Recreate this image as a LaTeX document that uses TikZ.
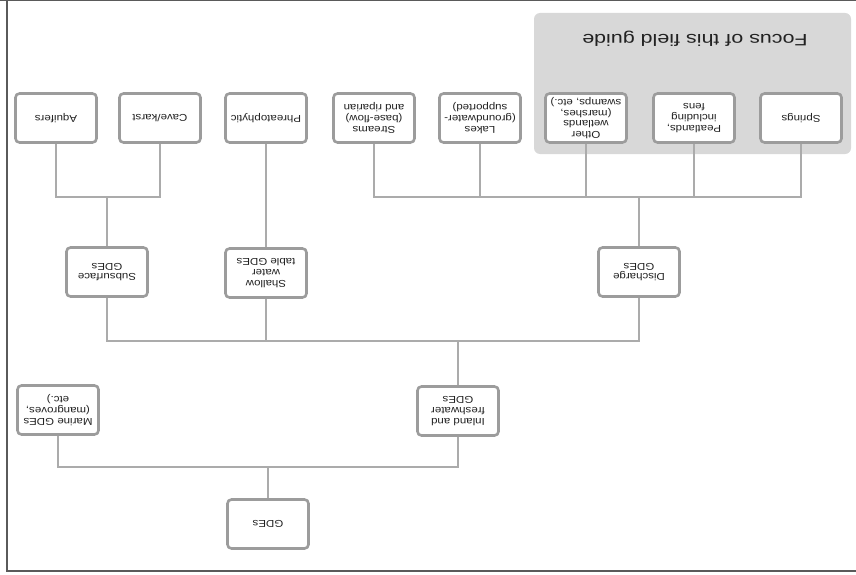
\documentclass[tikz,border=0pt]{standalone}
\usepackage{fontspec}
\newfontfamily\boxfont[FakeStretch=1.15]{Liberation Sans}
\newfontfamily\titlefont[FakeStretch=1.3]{Liberation Sans}
\definecolor{boxgray}{HTML}{9C9C9C}
\definecolor{linegray}{HTML}{ABABAB}
\definecolor{focusgray}{HTML}{D8D8D8}
\definecolor{textgray}{HTML}{222222}
\definecolor{framegray}{HTML}{5A5A5A}
\tikzset{
  gdebox/.style={draw=boxgray, line width=2.6pt, rounded corners=4pt, fill=white,
    minimum width=81pt, minimum height=49pt, inner sep=1pt, align=center,
    text=textgray, rotate=180, font=\boxfont\fontsize{10}{10.6}\selectfont},
  conn/.style={draw=linegray, line width=2pt},
  focus/.style={fill=focusgray, rounded corners=6pt},
}
\begin{document}
\begin{tikzpicture}[x=1pt,y=-1pt]
\useasboundingbox (0,0) rectangle (856,575);
\fill[white] (0,0) rectangle (856,575);
% frame
\draw[framegray, line width=1pt] (0,0.5) -- (856,0.5);
\draw[framegray, line width=2pt] (7,0) -- (7,571);
\draw[framegray, line width=2pt] (6,570.5) -- (856,570.5);
% focus region
\fill[focus] (534,13) rectangle (851,154);
\node[rotate=180, text=textgray, font=\titlefont\fontsize{16.5}{18}\selectfont] (title) at (695,39) {Focus of this field guide};
% nodes
\node[gdebox] (gdes) at (268,524) {GDEs};
\node[gdebox] (marine) at (58,410) {Marine GDEs\\(mangroves,\\etc.)};
\node[gdebox] (inland) at (458,411) {Inland and\\freshwater\\GDEs};
\node[gdebox] (subsurface) at (107,272) {Subsurface\\GDEs};
\node[gdebox] (shallow) at (266,273) {Shallow\\water\\table GDEs};
\node[gdebox] (discharge) at (639,272) {Discharge\\GDEs};
\node[gdebox] (aquifers) at (56,118) {Aquifers};
\node[gdebox] (cave) at (160,118) {Cave/karst};
\node[gdebox] (phreat) at (266,118) {Phreatophytic};
\node[gdebox] (streams) at (374,118) {Streams\\(base-flow)\\and riparian};
\node[gdebox] (lakes) at (480,118) {Lakes\\(groundwater-\\supported)};
\node[gdebox] (other) at (586,118) {Other\\wetlands\\(marshes,\\swamps, etc.)};
\node[gdebox] (peat) at (694,118) {Peatlands,\\including\\fens};
\node[gdebox] (springs) at (801,118) {Springs};
% bus coordinates
\coordinate (bus0) at (268,467);
\coordinate (bus1) at (458,341);
\coordinate (bus2) at (107,197);
\coordinate (bus3) at (639,197);
% connectors
\draw[conn] (gdes) -- (bus0);
\draw[conn] (bus0) -| (marine);
\draw[conn] (bus0) -| (inland);
\draw[conn] (inland) -- (bus1);
\draw[conn] (bus1) -| (subsurface);
\draw[conn] (bus1) -| (shallow);
\draw[conn] (bus1) -| (discharge);
\draw[conn] (subsurface) -- (bus2);
\draw[conn] (bus2) -| (aquifers);
\draw[conn] (bus2) -| (cave);
\draw[conn] (shallow) -- (phreat);
\draw[conn] (discharge) -- (bus3);
\draw[conn] (bus3) -| (streams);
\draw[conn] (bus3) -| (lakes);
\draw[conn] (bus3) -| (other);
\draw[conn] (bus3) -| (peat);
\draw[conn] (bus3) -| (springs);
\end{tikzpicture}
\end{document}
